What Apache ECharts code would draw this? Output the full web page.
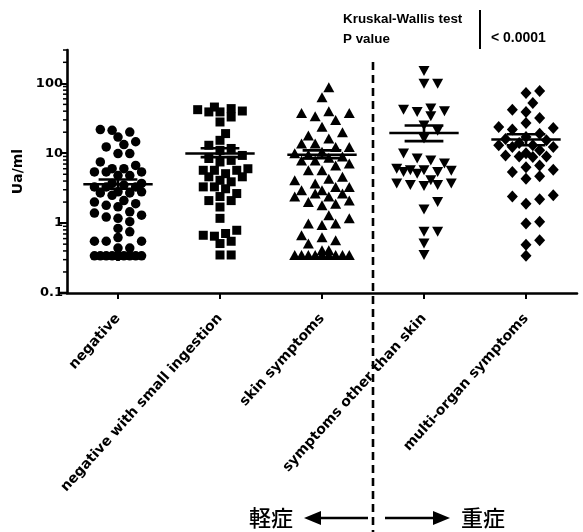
<!DOCTYPE html>
<html>
<head>
<meta charset="utf-8">
<script src="https://cdn.jsdelivr.net/npm/echarts@6/dist/echarts.min.js"></script>
<style>
  html, body { margin: 0; padding: 0; background: #fff; }
  #chart { width: 583px; height: 532px; }
</style>
</head>
<body>
<div id="chart"></div>
<script>
// Groups on the x axis
const categories = [
  'negative',
  'negative with small ingestion',
  'skin symptoms',
  'symptoms other than skin',
  'multi-organ symptoms'
];

// Individual measurements (Ua/ml) per group
const negative = [21.8, 21.3, 20.1, 17, 14.6, 13.3, 12.3, 9.9, 9.9, 7.5, 6.7, 6.0, 6.0, 5.4, 5.4, 5.4,
  4.8, 4.8, 3.7, 3.7, 3.5, 3.3, 3.3, 3.3, 2.8, 2.8, 2.7, 2.7, 2.5, 2.1, 2.0, 1.9, 1.8, 1.71, 1.45,
  1.39, 1.3, 1.22, 1.17, 1.05, 0.84, 0.75, 0.62, 0.55, 0.55, 0.55, 0.44, 0.44,
  0.34, 0.34, 0.34, 0.34, 0.34, 0.34, 0.34, 0.34, 0.34, 0.34, 0.34, 0.34, 0.34, 0.34, 0.34];
const smallIngestion = [45.8, 43.5, 42, 40.2, 39, 39, 33, 28, 19.1, 15.3, 13, 11.7, 11, 9.3, 8.4, 7.9,
  7.5, 6.0, 5.7, 5.7, 5.7, 5.1, 4.6, 4.6, 4.1, 3.9, 3.3, 3.3, 3.1, 2.65, 2.4, 2.1, 2.1, 1.7, 1.17,
  0.79, 0.71, 0.67, 0.65, 0.55, 0.51, 0.35, 0.35];
const skinSymptoms = [88, 63, 40, 37.7, 37.7, 33.8, 30, 24, 20, 18, 16.3, 13.8, 13.8, 12.3, 12.3, 10.5,
  10, 9.5, 9, 8.6, 7.9, 7.9, 7.1, 6.7, 5.7, 5.7, 4.6, 4.3, 4.1, 3.7, 3.3, 3.3, 2.95, 2.95, 2.65, 2.65,
  2.4, 2.4, 2.1, 2.0, 1.9, 1.8, 1.3, 1.17, 0.99, 0.99, 0.94, 0.67, 0.63, 0.57, 0.51, 0.41, 0.41,
  0.35, 0.35, 0.35, 0.35, 0.35, 0.35, 0.35, 0.35, 0.35, 0.35];
const otherSymptoms = [150, 99, 99, 43.5, 42, 40, 39, 33.8, 25, 21, 16.3, 9.9, 8.4, 7.9, 7.1, 6.0, 5.7,
  5.7, 5.6, 5.4, 5.4, 5.1, 4.1, 3.7, 3.7, 3.5, 3.5, 3.4, 2.0, 1.57, 0.75, 0.75, 0.51, 0.35];
const multiOrgan = [77.6, 72.6, 52.5, 42, 39, 32, 27, 23.8, 23, 21.8, 19, 17, 16, 15.3, 14, 13, 13,
  12.3, 12.3, 11, 10, 9.3, 9.0, 9.0, 8.8, 6.7, 6.3, 5.8, 5.4, 4.7, 4.3, 2.5, 2.4, 2.2, 1.9, 1.05,
  0.99, 0.57, 0.49, 0.34];

// Mean and SEM bounds per group
const meanValues = [3.6, 9.9, 9.5, 19.5, 15.7];
const semLow = [3.1, 8.8, 8.5, 14.9, 13.0];
const semHigh = [4.2, 11.8, 11.0, 24.9, 18.7];

// Axis ticks
const yTickValues = [0.1, 1, 10, 100];
const yMinorValues = [0.2, 0.3, 0.4, 0.5, 0.6, 0.7, 0.8, 0.9, 2, 3, 4, 5, 6, 7, 8, 9,
  20, 30, 40, 50, 60, 70, 80, 90, 200, 300];

// Annotation text
const testTitle = ['Kruskal-Wallis test', 'P value'];
const testResult = '< 0.0001';
const mildLabel = '軽症';
const severeLabel = '重症';

const groups = [negative, smallIngestion, skinSymptoms, otherSymptoms, multiOrgan];
const symbols = ['circle', 'rect', 'triangle', 'path://M0,0L10,0L5,9Z', 'diamond'];
const symbolSizes = [9.5, 9, [11, 10], [11, 10], [11, 12]];

const W = 583, H = 532;
const GRID = { left: 67, right: 6, top: 50, bottom: 239 };
const Y_MIN = 0.1, Y_MAX = 300;
const plotH = H - GRID.top - GRID.bottom;
const plotW = W - GRID.left - GRID.right;
const pxPerDecade = plotH / Math.log10(Y_MAX / Y_MIN);
const band = plotW / categories.length;
const FONT = '"DejaVu Sans", sans-serif';

// Deterministic swarm layout: each point takes the horizontal slot nearest
// the group centre that does not collide with points already placed.
function swarmOffsets(values, size, maxHalf) {
  const ys = values.map(v => Math.log10(v) * pxPerDecade);
  const order = values.map((_, i) => i).sort((a, b) => ys[a] - ys[b] || a - b);
  const step = size * 0.62;
  const cands = [0];
  for (let k = 1; k * step <= maxHalf + 0.01; k++) cands.push(k * step, -k * step);
  const placed = [];
  const out = new Array(values.length).fill(0);
  for (const i of order) {
    let best = 0, bestD = -1;
    for (const c of cands) {
      let d = Infinity;
      for (const p of placed) {
        const dd = Math.hypot(c - p.x, ys[i] - p.y);
        if (dd < d) d = dd;
      }
      if (d >= size * 0.95) { best = c; break; }
      if (d > bestD) { bestD = d; best = c; }
    }
    placed.push({ x: best, y: ys[i] });
    out[i] = best;
  }
  return out;
}

const pointSeries = groups.map((vals, g) => {
  const sz = Array.isArray(symbolSizes[g]) ? symbolSizes[g][0] : symbolSizes[g];
  const offs = swarmOffsets(vals, sz, 29);
  return {
    type: 'scatter',
    name: categories[g],
    xAxisIndex: 1,
    yAxisIndex: 0,
    symbol: symbols[g],
    symbolSize: symbolSizes[g],
    itemStyle: { color: '#000', opacity: 1 },
    emphasis: { disabled: true },
    silent: true,
    z: 3,
    data: vals.map((v, i) => [g + offs[i] / band, v])
  };
});

const statsSeries = {
  type: 'custom',
  xAxisIndex: 1,
  yAxisIndex: 0,
  silent: true,
  z: 5,
  encode: { x: 0, y: 1 },
  data: meanValues.map((m, g) => [g, m, semLow[g], semHigh[g]]),
  renderItem(params, api) {
    const g = api.value(0);
    const m = api.coord([g, api.value(1)]);
    const lo = api.coord([g, api.value(2)]);
    const hi = api.coord([g, api.value(3)]);
    const hw = band * 0.34, cw = band * 0.19;
    const st = { stroke: '#000', lineWidth: 2.6 };
    return {
      type: 'group',
      children: [
        { type: 'line', shape: { x1: m[0] - hw, y1: m[1], x2: m[0] + hw, y2: m[1] }, style: st },
        { type: 'line', shape: { x1: lo[0], y1: lo[1], x2: hi[0], y2: hi[1] }, style: st },
        { type: 'line', shape: { x1: lo[0] - cw, y1: lo[1], x2: lo[0] + cw, y2: lo[1] }, style: st },
        { type: 'line', shape: { x1: hi[0] - cw, y1: hi[1], x2: hi[0] + cw, y2: hi[1] }, style: st }
      ]
    };
  }
};

// Logarithmic minor ticks on the y axis
const minorTickSeries = {
  type: 'custom',
  xAxisIndex: 1,
  yAxisIndex: 0,
  silent: true,
  clip: false,
  z: 6,
  encode: { y: 0 },
  data: yMinorValues.map(v => [v]),
  renderItem(params, api) {
    const p = api.coord([-0.5, api.value(0)]);
    return {
      type: 'line',
      shape: { x1: p[0] - 4, y1: p[1], x2: p[0], y2: p[1] },
      style: { stroke: '#000', lineWidth: 1.5 }
    };
  }
};

const chart = echarts.init(document.getElementById('chart'), null, { renderer: 'canvas' });

chart.setOption({
  animation: false,
  backgroundColor: '#fff',
  grid: GRID,
  xAxis: [
    {
      type: 'category',
      data: categories,
      boundaryGap: true,
      axisLine: { show: true, lineStyle: { color: '#000', width: 2.6 } },
      axisTick: { show: true, alignWithLabel: true, length: 6, lineStyle: { color: '#000', width: 2 } },
      axisLabel: {
        rotate: 48, margin: 23, interval: 0,
        color: '#000', fontFamily: FONT, fontWeight: 'bold', fontSize: 14
      },
      splitLine: { show: false }
    },
    {
      type: 'value',
      min: -0.5,
      max: 4.5,
      show: false,
      splitLine: { show: false }
    }
  ],
  yAxis: {
    type: 'log',
    logBase: 10,
    min: Y_MIN,
    max: Y_MAX,
    name: 'Ua/ml',
    nameLocation: 'middle',
    nameGap: 37,
    nameRotate: 90,
    nameTextStyle: { color: '#000', fontFamily: FONT, fontWeight: 'bold', fontSize: 14 },
    axisLine: { show: true, onZero: false, lineStyle: { color: '#000', width: 2.6 } },
    axisTick: { show: true, length: 7, customValues: yTickValues, lineStyle: { color: '#000', width: 2 } },
    axisLabel: {
      customValues: yTickValues,
      margin: 4,
      color: '#000', fontFamily: FONT, fontWeight: 'bold', fontSize: 13,
      formatter: v => String(v)
    },
    minorTick: { show: false },
    splitLine: { show: false }
  },
  series: [...pointSeries, statsSeries, minorTickSeries]
});

// Divider between mild and severe groups, plus annotations
const xDiv = chart.convertToPixel({ xAxisIndex: 1 }, 2.5);
const xLeft = chart.convertToPixel({ xAxisIndex: 1 }, -0.5);
const yBase = chart.convertToPixel({ yAxisIndex: 0 }, Y_MIN);
const arrowY = 518;
const ink = { fill: '#000' };
chart.setOption({
  graphic: [
    {
      type: 'line', silent: true,
      shape: { x1: xLeft - 7, y1: yBase, x2: xLeft, y2: yBase },
      style: { stroke: '#000', lineWidth: 2.6 }
    },
    {
      type: 'line', silent: true, z: 10,
      shape: { x1: xDiv, y1: 62, x2: xDiv, y2: H },
      style: { stroke: '#000', lineWidth: 2.6, lineDash: [8, 5] }
    },
    // test table
    {
      type: 'text', silent: true, left: 343, top: 9,
      style: { text: testTitle.join('\n'), fill: '#000', font: 'bold 13.4px "Liberation Sans", Arial, sans-serif', lineHeight: 20 }
    },
    {
      type: 'line', silent: true,
      shape: { x1: 480, y1: 10, x2: 480, y2: 49 },
      style: { stroke: '#000', lineWidth: 2 }
    },
    {
      type: 'text', silent: true, left: 491, top: 31,
      style: { text: testResult, fill: '#000', font: 'bold 14px "Liberation Sans", Arial, sans-serif' }
    },
    // severity arrows
    {
      type: 'line', silent: true,
      shape: { x1: xDiv - 5, y1: arrowY, x2: xDiv - 55, y2: arrowY },
      style: { stroke: '#000', lineWidth: 2.4 }
    },
    {
      type: 'polygon', silent: true,
      shape: { points: [[xDiv - 69, arrowY], [xDiv - 52, arrowY - 7], [xDiv - 52, arrowY + 7]] },
      style: ink
    },
    {
      type: 'line', silent: true,
      shape: { x1: xDiv + 12, y1: arrowY, x2: xDiv + 62, y2: arrowY },
      style: { stroke: '#000', lineWidth: 2.4 }
    },
    {
      type: 'polygon', silent: true,
      shape: { points: [[xDiv + 77, arrowY], [xDiv + 60, arrowY - 7], [xDiv + 60, arrowY + 7]] },
      style: ink
    },
    {
      type: 'text', silent: true, x: xDiv - 80, y: arrowY,
      style: { text: mildLabel, fill: '#000', align: 'right', verticalAlign: 'middle',
        font: '500 22px "Noto Sans CJK JP", sans-serif' }
    },
    {
      type: 'text', silent: true, x: xDiv + 88, y: arrowY,
      style: { text: severeLabel, fill: '#000', align: 'left', verticalAlign: 'middle',
        font: '500 22px "Noto Sans CJK JP", sans-serif' }
    }
  ]
});
</script>
</body>
</html>
